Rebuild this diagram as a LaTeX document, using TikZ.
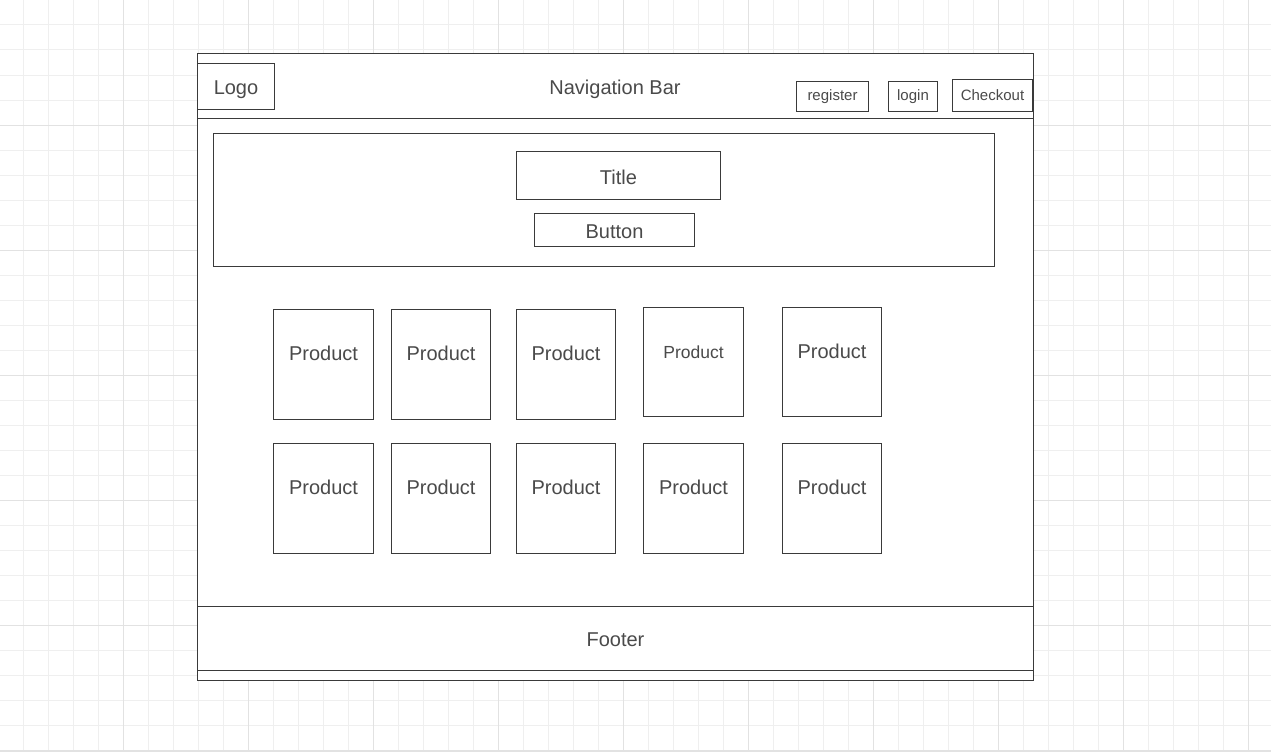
\documentclass[tikz,border=0pt]{standalone}
\usepackage{fontspec}
\setmainfont{Liberation Sans}
\definecolor{gridminor}{HTML}{EFEFEF}
\definecolor{gridmajor}{HTML}{E2E2E2}
\definecolor{linecol}{HTML}{3A3A3A}
\definecolor{txtcol}{HTML}{4A4A4A}
\tikzset{
  box/.style={draw=linecol, line width=1pt, fill=white, inner sep=0pt, outer sep=0pt, anchor=north west},
  big/.style={text=txtcol, inner sep=0pt, anchor=base, font=\fontsize{20}{24}\selectfont},
  mid/.style={text=txtcol, inner sep=0pt, anchor=base, font=\fontsize{17.5}{21}\selectfont},
  small/.style={text=txtcol, inner sep=0pt, anchor=base, font=\fontsize{15}{18}\selectfont},
}
% \bx{name}{x1}{y1}{x2}{y2}
\newcommand\bx[5]{\node[box, minimum width={#4pt-#2pt}, minimum height={#5pt-#3pt}] (#1) at (#2,#3) {};}
\begin{document}
\begin{tikzpicture}[x=1pt,y=-1pt]
\useasboundingbox (0,0) rectangle (1271,752);
\fill[white] (0,0) rectangle (1271,752);
% grid
\foreach \gx in {-2,23,...,1273} {\draw[gridminor, line width=1pt] (\gx,0) -- (\gx,752);}
\foreach \gy in {0,25,...,750} {\draw[gridminor, line width=1pt] (0,\gy) -- (1271,\gy);}
\foreach \gx in {-2,123,...,1273} {\draw[gridmajor, line width=1pt] (\gx,0) -- (\gx,752);}
\foreach \gy in {0,125,...,625} {\draw[gridmajor, line width=1pt] (0,\gy) -- (1271,\gy);}
\fill[gridmajor] (0,749.5) rectangle (1271,752);
% page frame
\bx{page}{197.5}{53.5}{1033.5}{680.5}
\bx{nav}{197.5}{53.5}{1033.5}{118.5}
\bx{footer}{197.5}{606.5}{1033.5}{670.5}
\bx{logo}{197.5}{63.5}{274.5}{109.5}
\bx{register}{796.5}{81.5}{868.5}{111.5}
\bx{login}{888.5}{81.5}{937.5}{111.5}
\bx{checkout}{952.5}{79.5}{1032.5}{111.5}
\bx{hero}{213.5}{133.5}{994.5}{266.5}
\bx{title}{516.5}{151.5}{720.5}{199.5}
\bx{button}{534.5}{213.5}{694.5}{246.5}
% products row 1
\bx{pa}{273.5}{309.5}{373.5}{419.5}
\bx{pb}{391.5}{309.5}{490.5}{419.5}
\bx{pc}{516.5}{309.5}{615.5}{419.5}
\bx{pd}{643.5}{307.5}{743.5}{416.5}
\bx{pe}{782.5}{307.5}{881.5}{416.5}
% products row 2
\bx{qa}{273.5}{443.5}{373.5}{553.5}
\bx{qb}{391.5}{443.5}{490.5}{553.5}
\bx{qc}{516.5}{443.5}{615.5}{553.5}
\bx{qd}{643.5}{443.5}{743.5}{553.5}
\bx{qe}{782.5}{443.5}{881.5}{553.5}
% labels
\node[big] (tlogo) at (236,94) {Logo};
\node[big] (tnav) at (615,94) {Navigation Bar};
\node[small] (treg) at (832.5,100.5) {register};
\node[small] (tlog) at (913,100.5) {login};
\node[small] (tchk) at (992.5,100.5) {Checkout};
\node[big] (ttitle) at (618.5,184.5) {Title};
\node[big] (tbutton) at (614.5,238.5) {Button};
\node[big] (tpa) at (323.5,360) {Product};
\node[big] (tpb) at (441,360) {Product};
\node[big] (tpc) at (566,360) {Product};
\node[mid] (tpd) at (693.5,358.5) {Product};
\node[big] (tpe) at (832,358) {Product};
\node[big] (tqa) at (323.5,494.5) {Product};
\node[big] (tqb) at (441,494.5) {Product};
\node[big] (tqc) at (566,494.5) {Product};
\node[big] (tqd) at (693.5,494.5) {Product};
\node[big] (tqe) at (832,494.5) {Product};
\node[big] (tfoot) at (615.5,646.5) {Footer};
\end{tikzpicture}
\end{document}
